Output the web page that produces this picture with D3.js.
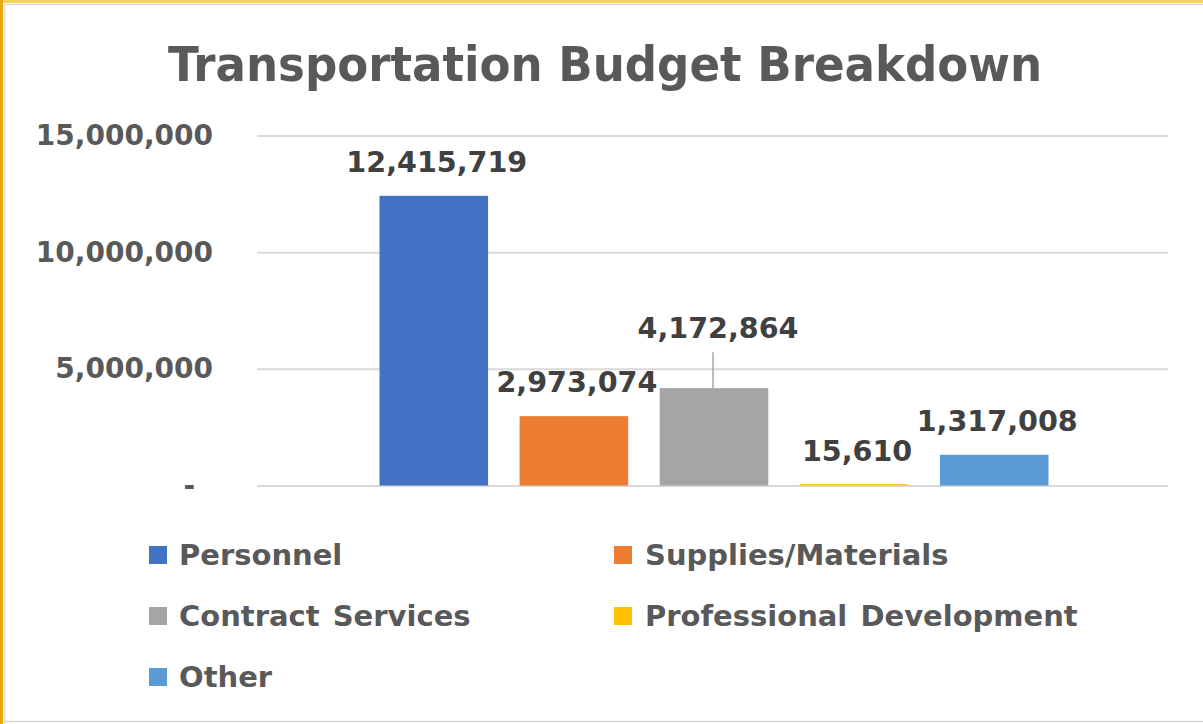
<!DOCTYPE html>
<html>
<head>
<meta charset="utf-8">
<script src="https://cdn.jsdelivr.net/npm/d3@7"></script>
<style>
  html, body { margin: 0; padding: 0; background: #fff; }
  svg { display: block; }
</style>
</head>
<body>
<svg id="chart" width="1203" height="724"></svg>
<script>
// ---- data ----
const title = "Transportation Budget Breakdown";
const series = ["Personnel", "Supplies/Materials", "Contract Services", "Professional Development", "Other"];
const values = [12415719, 2973074, 4172864, 15610, 1317008];
const colors = ["#4472C4", "#ED7D31", "#A5A5A5", "#FFC000", "#5B9BD5"];
const yTicks = [0, 5000000, 10000000, 15000000];

// ---- layout ----
const W = 1203, H = 724;
const plot = { left: 257, right: 1168, top: 135.5, bottom: 485.5 };
const svg = d3.select("#chart");
const numFont = "'DejaVu Sans', Verdana, sans-serif";

// frame
svg.append("rect").attr("x", 0).attr("y", 0).attr("width", W).attr("height", H).attr("fill", "#fff");
svg.append("rect").attr("x", 0).attr("y", 0).attr("width", W).attr("height", 3).attr("fill", "#F7D35A");
svg.append("rect").attr("x", 0).attr("y", 0).attr("width", 3).attr("height", H).attr("fill", "#E3AA12");
svg.append("line").attr("x1", 4.5).attr("x2", 4.5).attr("y1", 4).attr("y2", H).attr("stroke", "#D9D9D9").attr("stroke-width", 1.5);
svg.append("line").attr("x1", 4).attr("x2", W).attr("y1", 4.5).attr("y2", 4.5).attr("stroke", "#D9D9D9").attr("stroke-width", 1.5);
svg.append("line").attr("x1", 4).attr("x2", W).attr("y1", 721.5).attr("y2", 721.5).attr("stroke", "#D9D9D9").attr("stroke-width", 1.5);

// title
svg.append("text")
  .attr("x", 605).attr("y", 81)
  .attr("text-anchor", "middle")
  .attr("font-family", "'Liberation Sans Narrow', 'Arial Narrow', 'DejaVu Sans Condensed', sans-serif")
  .attr("font-weight", "bold")
  .attr("font-size", 48)
  .attr("fill", "#595959")
  .attr("textLength", 874)
  .attr("lengthAdjust", "spacingAndGlyphs")
  .text(title);

// scales
const y = d3.scaleLinear().domain([0, 15000000]).range([plot.bottom, plot.top]);
const x = d3.scaleBand().domain(series).range([379.5, 1048.5]).paddingInner(0.225).paddingOuter(0);

// y axis with gridlines
const yAxis = d3.axisLeft(y)
  .tickValues(yTicks)
  .tickSizeInner(-(plot.right - plot.left))
  .tickSizeOuter(0)
  .tickPadding(44)
  .tickFormat(d => d === 0 ? "-" : d3.format(",")(d));
const gy = svg.append("g").attr("transform", `translate(${plot.left},0)`).call(yAxis);
gy.select(".domain").remove();
gy.selectAll(".tick line").attr("stroke", "#D9D9D9").attr("stroke-width", 2);
gy.selectAll(".tick text")
  .attr("font-family", numFont).attr("font-weight", "bold").attr("font-size", 28)
  .attr("fill", "#595959")
  .attr("dx", d => d === 0 ? -18 : 0);

// bars
svg.append("g").selectAll("rect").data(series).join("rect")
  .attr("x", d => x(d))
  .attr("width", x.bandwidth())
  .attr("y", (d, i) => y(values[i]) - (values[i] < 100000 ? 1 : 0))
  .attr("height", (d, i) => y(0) - y(values[i]) + (values[i] < 100000 ? 1 : 0))
  .attr("fill", (d, i) => colors[i]);

// data labels
const leaderSeries = "Contract Services";
const fmt = d3.format(",");
const lbl = svg.append("g");
series.forEach((s, i) => {
  const cx = x(s) + x.bandwidth() / 2;
  const top = y(values[i]);
  let cy = top - 34;
  if (s === leaderSeries) {
    cy = top - 60;
    lbl.append("line").attr("x1", cx - 1).attr("x2", cx - 1)
      .attr("y1", top).attr("y2", top - 36)
      .attr("stroke", "#A6A6A6").attr("stroke-width", 1.5);
  }
  lbl.append("text")
    .attr("x", cx + (s === leaderSeries ? 4 : 3)).attr("y", cy)
    .attr("dy", "0.36em")
    .attr("text-anchor", "middle")
    .attr("font-family", numFont).attr("font-weight", "bold").attr("font-size", 28.6)
    .attr("fill", "#404040")
    .text(fmt(values[i]));
});

// legend
const legCols = [149, 614];
const legRows = [555, 616, 677];
const leg = svg.append("g");
series.forEach((s, i) => {
  const lx = legCols[i % 2], ly = legRows[Math.floor(i / 2)];
  leg.append("rect").attr("x", lx).attr("y", ly - 9).attr("width", 18).attr("height", 18).attr("fill", colors[i]);
  leg.append("text")
    .attr("x", lx + (i % 2 === 0 ? 30 : 31)).attr("y", ly)
    .attr("dy", "0.36em")
    .attr("font-family", numFont).attr("font-weight", "bold").attr("font-size", 29)
    .attr("word-spacing", 3)
    .attr("fill", "#595959")
    .text(s);
});
</script>
</body>
</html>
